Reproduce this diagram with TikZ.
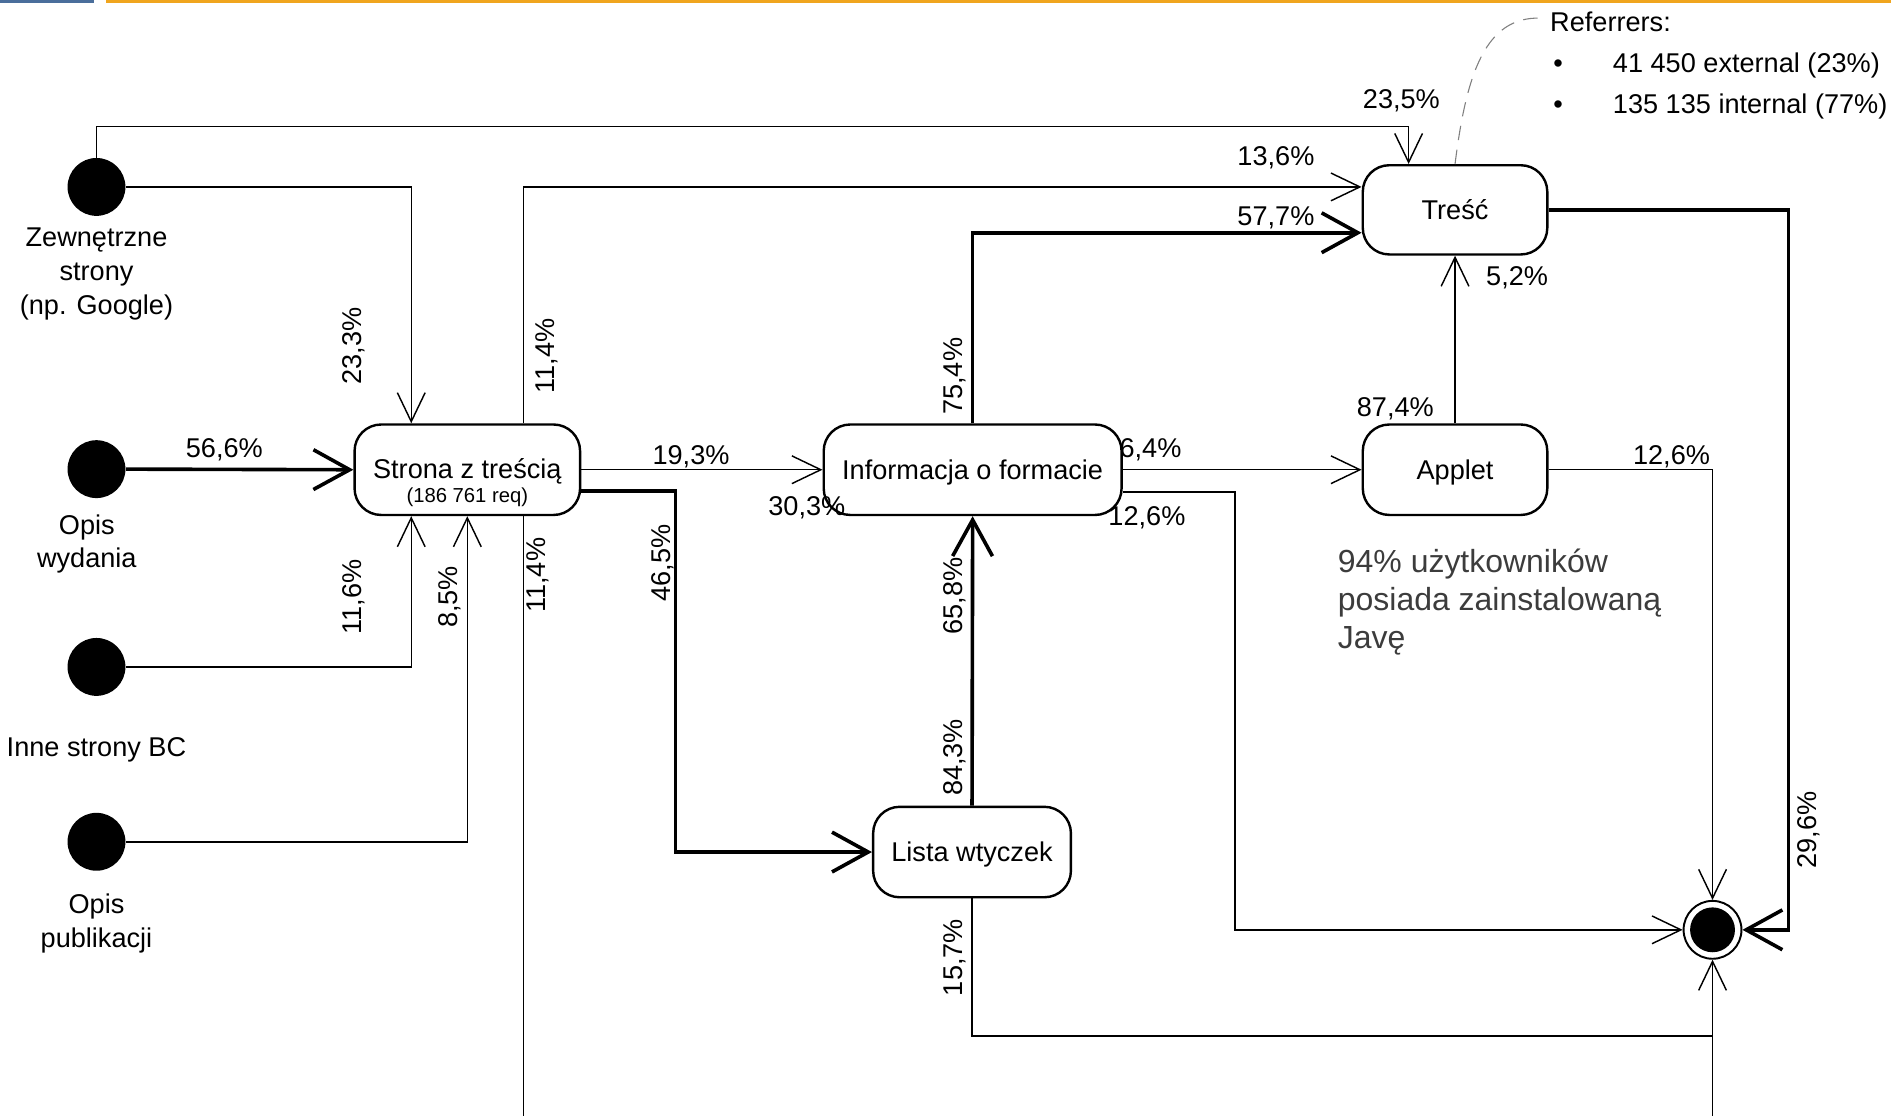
\documentclass[tikz,border=0pt]{standalone}
\usepackage{fontspec}
\setmainfont{Liberation Sans}
\usetikzlibrary{arrows.meta}
\definecolor{barblue}{RGB}{74,110,155}
\definecolor{barorange}{RGB}{240,165,30}
\definecolor{notegray}{RGB}{60,60,60}
\newcommand\lblfont{\fontsize{11.25}{14}\selectfont}
\newcommand\smallfnt{\fontsize{8.4}{10}\selectfont}
\newcommand\notefnt{\fontsize{13.25}{15.75}\selectfont}
\begin{document}
\begin{tikzpicture}[x=0.5pt,y=-0.5pt,
  statebox/.style={draw, line width=1pt, rounded corners=11pt, inner sep=0pt, font=\lblfont, text height=8.1pt, text depth=0pt},
  srcdot/.style={circle, fill=black, inner sep=0pt, minimum size=24pt},
  thinconn/.style={line width=0.6pt, -{Straight Barb[length=12pt,width=11.5pt]}},
  thickconn/.style={line width=1.5pt, -{Straight Barb[length=15pt,width=16.5pt]}},
  plainconn/.style={line width=0.6pt},
  lbl/.style={font=\lblfont, inner sep=0pt, text height=8.1pt, text depth=0pt},
  mlbl/.style={font=\lblfont, inner sep=0pt, align=center},
  vlbl/.style={font=\lblfont, inner sep=0pt, rotate=90, text height=8.1pt, text depth=0pt},
]
\useasboundingbox (0,0) rectangle (1568,925);
% top bar
\fill[barblue] (0,0) rectangle (78,2.5);
\fill[barorange] (88,0) rectangle (1568,2.5);

% state nodes
\node[statebox, minimum width=93.5pt, minimum height=37.5pt] (strona) at (387.5,389.5) {};
\node[lbl] (stronat) at (387.5,389) {Strona z treścią};
\node[font=\smallfnt, inner sep=0pt, text height=6pt, text depth=0pt] (stronareq) at (387.5,411) {(186 761 req)};
\node[statebox, minimum width=123.5pt, minimum height=37.5pt] (info) at (806.5,389.5) {Informacja o formacie};
\node[statebox, minimum width=82pt, minimum height=37.5pt] (lista) at (806,706.5) {Lista wtyczek};
\node[statebox, minimum width=76.5pt, minimum height=37pt] (tresc) at (1206.5,174) {Treść};
\node[statebox, minimum width=76.5pt, minimum height=37.5pt] (applet) at (1206.5,389.5) {Applet};

% sources
\node[srcdot] (zew) at (80,155) {};
\node[srcdot] (opw) at (80,389) {};
\node[srcdot] (inne) at (80,553) {};
\node[srcdot] (opp) at (80,698) {};
% final state
\node[circle, draw, line width=0.8pt, fill=white, minimum size=24pt, inner sep=0pt,
  path picture={\fill[black] (path picture bounding box.center) circle (9.3pt);}] (end) at (1420,771) {};

% source labels
\node[mlbl] (zewl) at (80,227) {Zewnętrzne\\strony\\(np. Google)};
\node[mlbl] (opwl) at (72,451) {Opis\\wydania};
\node[lbl] (innel) at (80,619) {Inne strony BC};
\node[mlbl] (oppl) at (80,766) {Opis\\publikacji};

% free ends at the bottom edge
\coordinate (bot1) at (434,925);
\coordinate (bot2) at (1420,925);
\coordinate (refc) at (1277,15);

% connectors
\draw[thinconn] (zew.north) |- (1168,105) -- (tresc.north -| 1168,0);
\draw[thinconn] (zew.east) -| (strona.north -| 341,0);
\draw[thickconn] (opw.east) -- (strona.west);
\draw[thinconn] (inne.east) -| (strona.south -| 341,0);
\draw[thinconn] (opp.east) -| (strona.south);
\draw[thinconn] (strona.north -| 434,0) |- (tresc.west |- 0,155);
\draw[plainconn] (strona.south -| 434,0) -- (bot1);
\draw[thinconn] (strona.east) -- (info.west);
\draw[thickconn] (strona.east |- 0,407) -- (560,407) |- (lista.west);
\draw[thickconn] (info.north) |- (tresc.west |- 0,193);
\draw[thinconn] (info.east) -- (applet.west);
\draw[thinconn] (info.east |- 0,408) -- (1024,408) |- (end.west);
\draw[thickconn] (lista.north) -- (info.south);
\draw[plainconn] (lista.south) |- (1420,859);
\draw[thinconn] (bot2) -- (end.south);
\draw[thinconn] (applet.north) -- (tresc.south);
\draw[thinconn] (applet.east) -| (end.north);
\draw[thickconn] (tresc.east) -- (1483,174) |- (end.east);
\draw[line width=0.45pt, gray, dash pattern=on 6pt off 4pt] (tresc.north) .. controls (1216,60) and (1232,14) .. (refc);

% horizontal labels
\node[lbl] at (1162,82) {23,5\%};
\node[lbl] at (1058,129) {13,6\%};
\node[lbl] at (1058,179) {57,7\%};
\node[lbl] at (1258,229) {5,2\%};
\node[lbl] at (1157,337) {87,4\%};
\node[lbl] at (1386,377) {12,6\%};
\node[lbl] at (954,371) {6,4\%};
\node[lbl] at (951,428) {12,6\%};
\node[lbl] at (573,377) {19,3\%};
\node[lbl] at (669,419) {30,3\%};
\node[lbl] at (186,371) {56,6\%};

% vertical labels
\node[vlbl] at (292,287) {23,3\%};
\node[vlbl] at (452,295) {11,4\%};
\node[vlbl] at (292,495) {11,6\%};
\node[vlbl] at (371,495) {8,5\%};
\node[vlbl] at (444,477) {11,4\%};
\node[vlbl] at (548,467) {46,5\%};
\node[vlbl] at (790,312) {75,4\%};
\node[vlbl] at (790,494) {65,8\%};
\node[vlbl] at (790,628) {84,3\%};
\node[vlbl] at (790,794) {15,7\%};
\node[vlbl] at (1498,688) {29,6\%};

% note
\node[font=\notefnt, text=notegray, align=left, anchor=north west, inner sep=0pt] (note) at (1109,455) {94\% użytkowników\\posiada zainstalowaną\\Javę};

% referrers
\node[lbl, anchor=west] (ref) at (1285,18) {Referrers:};
\node[lbl] (b1) at (1292,52) {•};
\node[lbl] (b2) at (1292,86) {•};
\node[lbl, anchor=west] (r1) at (1337,52) {41 450 external (23\%)};
\node[lbl, anchor=west] (r2) at (1337,86) {135 135 internal (77\%)};
\end{tikzpicture}
\end{document}
